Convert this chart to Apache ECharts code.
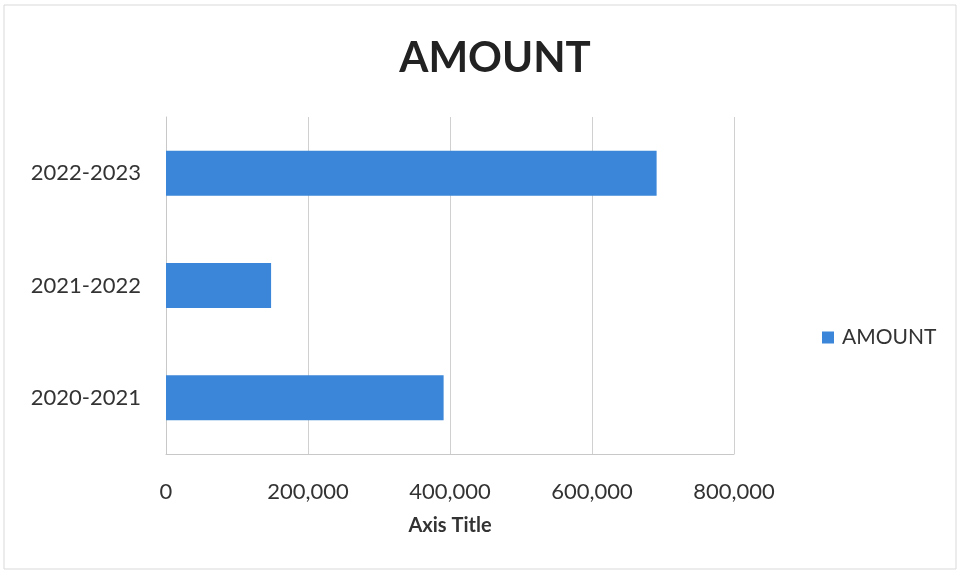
<!DOCTYPE html>
<html>
<head>
<meta charset="utf-8">
<script src="https://cdn.jsdelivr.net/npm/echarts@6/dist/echarts.min.js"></script>
<style>
  html, body { margin: 0; padding: 0; background: #fff; }
  #chart { width: 960px; height: 574px; }
</style>
</head>
<body>
<div id="chart"></div>
<script>
// categories and values
var categories = ['2020-2021', '2021-2022', '2022-2023']
var amounts = [391000, 148000, 691000]
var xTicks = { min: 0, max: 800000, interval: 200000 }

var chart = echarts.init(document.getElementById('chart'))
var font = 'Lato, "Open Sans", sans-serif'

var option = {
  animation: false,
  textStyle: { fontFamily: font },
  title: {
    text: 'AMOUNT',
    left: 490,
    textAlign: 'center',
    top: 32,
    textStyle: { fontSize: 42, fontWeight: 'bold', color: '#222', fontFamily: font }
  },
  graphic: [{
    type: 'rect',
    shape: { x: 4, y: 5, width: 952, height: 564 },
    style: { fill: 'none', stroke: '#d9d9d9', lineWidth: 1 },
    silent: true
  }],
  legend: {
    data: ['AMOUNT'],
    left: 817,
    top: 322,
    orient: 'vertical',
    icon: 'rect',
    itemWidth: 12,
    itemHeight: 12,
    itemGap: 8,
    textStyle: { fontSize: 21, color: '#333', fontFamily: font, padding: [0, 0, 0, 3] }
  },
  grid: {
    left: 166,
    right: 226,
    top: 117,
    bottom: 120
  },
  xAxis: {
    type: 'value',
    min: xTicks.min,
    max: xTicks.max,
    interval: xTicks.interval,
    name: 'Axis Title',
    nameLocation: 'middle',
    nameGap: 62,
    nameTextStyle: { fontSize: 20, fontWeight: 'bold', color: '#333', fontFamily: font },
    axisLine: { show: true, lineStyle: { color: '#c8c8c8' } },
    axisTick: { show: false },
    axisLabel: {
      fontSize: 22,
      color: '#333',
      margin: 27,
      formatter: function (v) { return v.toLocaleString('en-US') }
    },
    splitLine: { show: true, lineStyle: { color: '#d0d0d0' } }
  },
  yAxis: {
    type: 'category',
    data: categories,
    axisLine: { show: true, lineStyle: { color: '#c8c8c8' } },
    axisTick: { show: false },
    axisLabel: { fontSize: 22, color: '#333', margin: 25 }
  },
  series: [{
    name: 'AMOUNT',
    type: 'bar',
    data: amounts,
    barCategoryGap: '60%',
    itemStyle: { color: '#3b86d8' }
  }]
}
chart.setOption(option)
</script>
</body>
</html>
